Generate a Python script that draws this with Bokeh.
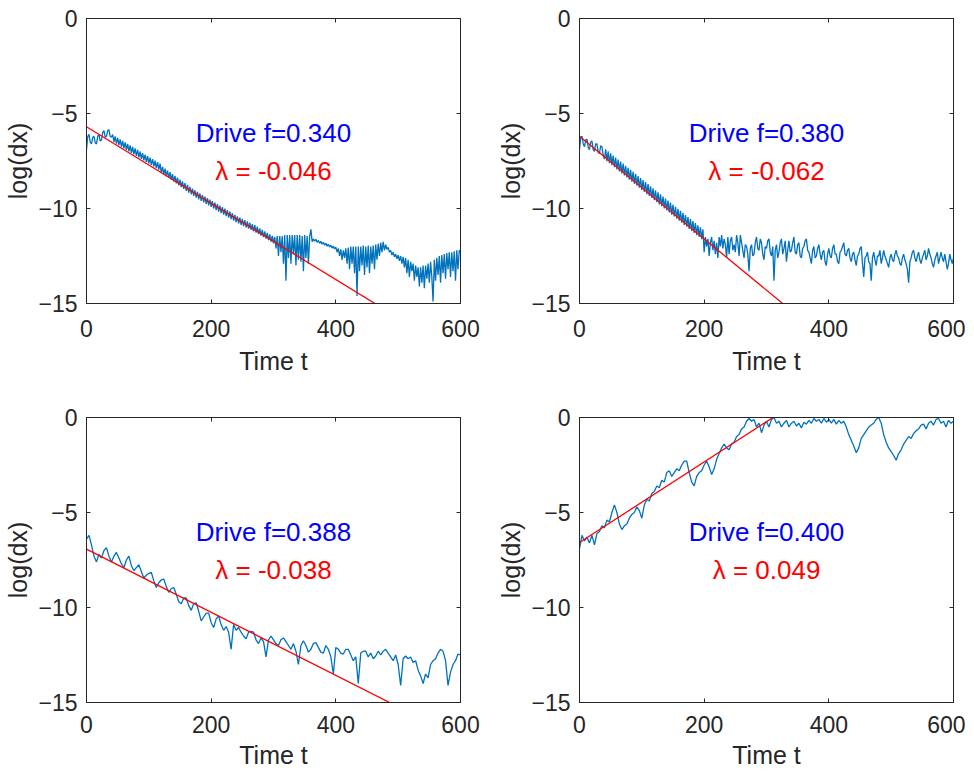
import numpy as np
from bokeh.plotting import figure
from bokeh.layouts import column, row
from bokeh.models import Range1d, FixedTicker, LinearAxis
from bokeh.core.properties import value
from bokeh.embed import file_html
from bokeh.resources import INLINE

# ---------------- data ----------------
x_ticks = [0, 200, 400, 600]
y_ticks = [-15, -10, -5, 0]

drive_f = ["0.340", "0.380", "0.388", "0.400"]
lambdas = ["-0.046", "-0.062", "-0.038", "0.049"]
fit_intercept = [-5.7, -6.2, -6.93, -6.58]
fit_slope = [-0.0201, -0.027, -0.0166, 0.0212]
time_steps = [2, 2, 4, 4]  # sampling step of each read-off series (t from 0 to 600)

logdx_f0340 = [
    -6.9, -6.2, -6.1, -6.5, -6.6, -6.25, -6.2, -6.55, -6.6, -6.2,
    -6.1, -6.45, -6.4, -6.0, -5.9, -6.25, -6.2, -5.9, -5.85, -6.2,
    -6.25, -6.11, -6.50, -6.20, -6.59, -6.28, -6.67, -6.36, -6.75, -6.44,
    -6.83, -6.52, -6.91, -6.60, -6.99, -6.68, -7.07, -6.76, -7.15, -6.84,
    -7.23, -6.92, -7.31, -7.00, -7.39, -7.08, -7.47, -7.16, -7.55, -7.24,
    -7.63, -7.32, -7.71, -7.40, -7.79, -7.48, -7.87, -7.56, -7.95, -7.64,
    -8.11, -7.81, -8.20, -7.90, -8.30, -8.00, -8.39, -8.09, -8.49, -8.19,
    -8.58, -8.28, -8.68, -8.38, -8.78, -8.48, -8.88, -8.57, -8.97, -8.67,
    -9.07, -8.76, -9.16, -8.86, -9.25, -8.95, -9.34, -9.04, -9.43, -9.13,
    -9.52, -9.21, -9.60, -9.29, -9.68, -9.37, -9.76, -9.45, -9.84, -9.53,
    -9.92, -9.61, -10.00, -9.69, -10.08, -9.77, -10.16, -9.85, -10.24, -9.93,
    -10.32, -10.01, -10.40, -10.09, -10.48, -10.17, -10.56, -10.25, -10.64, -10.33,
    -10.72, -10.41, -10.79, -10.48, -10.86, -10.54, -10.93, -10.61, -11.00, -10.68,
    -11.06, -10.75, -11.13, -10.82, -11.20, -10.88, -11.27, -10.96, -11.35, -11.04,
    -11.43, -11.12, -11.51, -11.20, -11.59, -11.28, -11.67, -11.36, -11.75, -11.44,
    -11.83, -11.5, -12.1, -11.45, -12.5, -11.45, -12.3, -11.45, -12.9, -11.4,
    -13.8, -11.4, -12.6, -11.4, -12.9, -11.4, -12.4, -11.4, -13.0, -11.4,
    -12.7, -11.4, -12.8, -11.45, -13.3, -11.4, -12.6, -11.45, -12.9, -11.5,
    -11.1, -11.75, -11.6, -11.72, -11.62, -11.78, -11.68, -11.83, -11.73, -11.88,
    -11.78, -11.93, -11.83, -11.98, -11.88, -12.03, -11.93, -12.08, -11.98, -12.13,
    -12.03, -12.3, -12.1, -12.5, -12.15, -12.7, -12.2, -12.6, -12.1, -12.9,
    -12.05, -13.2, -12.0, -12.9, -12.0, -13.4, -12.0, -14.6, -12.0, -13.3,
    -12.0, -13.0, -11.95, -13.5, -12.0, -13.1, -11.95, -13.4, -12.0, -12.9,
    -11.95, -13.2, -11.9, -12.7, -11.85, -12.5, -11.8, -12.3, -11.75, -12.2,
    -11.9, -12.15, -12.05, -12.3, -12.2, -12.45, -12.3, -12.55, -12.4, -12.65,
    -12.45, -12.75, -12.5, -12.9, -12.55, -13.1, -12.6, -13.4, -12.7, -13.6,
    -12.8, -13.3, -12.9, -13.8, -13.0, -13.6, -13.1, -14.1, -13.1, -13.9,
    -13.0, -14.2, -13.0, -13.7, -12.9, -13.9, -12.8, -13.6, -14.9, -12.7,
    -13.8, -12.6, -13.5, -12.5, -13.9, -12.45, -13.4, -12.4, -13.7, -12.35,
    -13.2, -12.3, -13.6, -12.3, -13.3, -12.25, -13.8, -12.2, -13.2, -12.2,
    -12.3,
]

logdx_f0380 = [
    -6.9, -6.25, -6.2, -6.6, -6.75, -6.4, -6.35, -6.8, -6.9, -6.5,
    -6.45, -6.9, -7.0, -6.6, -6.6, -7.05, -7.1, -6.7, -6.75, -7.2,
    -7.40, -6.88, -7.51, -6.99, -7.62, -7.10, -7.72, -7.21, -7.83, -7.32,
    -7.94, -7.42, -8.05, -7.53, -8.16, -7.64, -8.26, -7.75, -8.37, -7.86,
    -8.48, -7.96, -8.59, -8.07, -8.70, -8.18, -8.80, -8.29, -8.91, -8.40,
    -9.02, -8.50, -9.13, -8.61, -9.24, -8.72, -9.34, -8.83, -9.45, -8.94,
    -9.56, -9.04, -9.67, -9.15, -9.78, -9.26, -9.88, -9.37, -9.99, -9.48,
    -10.10, -9.58, -10.21, -9.69, -10.32, -9.80, -10.42, -9.91, -10.53, -10.02,
    -10.64, -10.12, -10.75, -10.23, -10.86, -10.34, -10.96, -10.45, -11.07, -10.56,
    -11.18, -10.66, -11.29, -10.77, -11.40, -10.88, -11.50, -10.99, -11.61, -11.10,
    -12.3, -11.5, -12.0, -11.6, -12.5, -11.8, -11.5, -12.2, -11.7, -12.4,
    -11.8, -12.6, -11.5, -12.0, -11.4, -12.1, -11.6, -11.9, -12.6, -11.5,
    -12.4, -11.7, -11.5, -12.2, -11.9, -12.3, -11.4, -11.8, -12.5, -11.4,
    -11.8, -12.2, -12.6, -11.9, -12.0, -12.4, -13.3, -12.1, -11.9, -12.5,
    -12.4, -11.8, -11.5, -12.1, -12.2, -11.6, -11.8, -12.4, -12.7, -12.0,
    -12.1, -11.7, -11.6, -12.3, -12.5, -12.0, -13.8, -12.2, -11.9, -12.6,
    -12.3, -11.8, -11.6, -12.4, -12.1, -11.7, -12.8, -12.2, -11.7, -12.3,
    -12.2, -11.8, -11.5, -12.3, -12.4, -11.9, -11.8, -12.5, -12.6, -12.1,
    -12.0, -11.7, -11.6, -12.2, -12.3, -12.6, -12.9, -12.2, -12.0, -12.6,
    -12.5, -12.1, -11.9, -12.4, -12.7, -12.3, -12.2, -12.8, -13.0, -12.4,
    -12.1, -12.5, -12.6, -12.1, -11.9, -12.4, -12.4, -12.8, -12.9, -12.3,
    -12.2, -12.0, -11.8, -12.4, -12.5, -12.2, -12.1, -12.6, -12.8, -12.4,
    -12.3, -12.7, -13.0, -12.5, -12.4, -12.1, -12.0, -12.9, -13.6, -12.6,
    -12.5, -12.3, -12.8, -12.9, -13.8, -12.6, -12.3, -12.7, -13.0, -12.5,
    -12.5, -12.2, -12.9, -12.6, -12.2, -12.5, -12.7, -12.9, -13.1, -12.6,
    -12.4, -12.7, -12.8, -12.4, -12.2, -12.5, -12.6, -12.9, -13.0, -12.6,
    -12.4, -12.7, -12.9, -13.2, -13.9, -12.8, -12.6, -12.3, -12.2, -12.6,
    -12.8, -12.5, -12.3, -12.7, -12.9, -12.6, -12.4, -12.2, -12.7, -12.5,
    -12.1, -12.4, -12.6, -12.9, -13.1, -12.7, -12.5, -12.3, -12.9, -12.6,
    -12.3, -12.6, -12.8, -12.4, -12.8, -13.2, -12.9, -12.4, -12.7, -12.9,
    -12.6,
]

logdx_f0388 = [
    -6.4, -6.2, -6.7, -7.3, -7.6, -7.2, -7.4, -7.0, -6.85, -7.3,
    -7.6, -7.3, -7.1, -7.4, -7.7, -7.9, -7.5, -7.3, -7.8, -8.05,
    -7.9, -7.75, -8.1, -8.45, -8.3, -8.2, -8.15, -8.6, -8.95, -8.7,
    -8.55, -8.5, -8.9, -9.2, -9.0, -8.95, -9.3, -9.7, -9.8, -9.5,
    -9.5, -9.9, -10.15, -9.8, -9.75, -10.2, -10.7, -10.5, -10.3, -10.3,
    -10.8, -11.05, -10.6, -10.45, -10.9, -11.2, -11.0, -11.3, -12.2, -10.9,
    -11.2, -11.05, -11.3, -11.5, -11.65, -11.3, -11.25, -11.3, -11.7, -11.9,
    -11.6, -11.8, -12.6, -11.7, -11.5, -11.7, -11.9, -12.0, -11.7, -11.6,
    -11.8, -12.0, -12.2, -11.9, -12.3, -13.0, -12.0, -11.75, -12.0, -12.35,
    -12.2, -11.9, -11.85, -12.1, -12.35, -12.4, -12.0, -12.2, -12.6, -13.5,
    -12.1, -12.2, -12.4, -12.45, -12.2, -12.2, -12.5, -12.8, -12.6, -14.0,
    -12.4, -12.3, -12.3, -12.6, -12.4, -12.7, -12.55, -12.3, -12.5, -12.3,
    -12.2, -12.4, -12.6, -12.8, -12.5, -13.0, -14.1, -12.7, -12.55, -12.7,
    -12.6, -12.9, -12.8, -13.3, -13.6, -14.0, -13.5, -13.7, -13.0, -12.8,
    -12.7, -12.4, -12.2, -12.3, -12.8, -14.1, -13.4, -13.0, -12.8, -12.45,
    -12.5,
]

logdx_f0400 = [
    -6.9, -6.2, -6.5, -6.3, -6.6, -6.2, -6.7, -6.1, -6.0, -5.7,
    -5.8, -5.4, -5.5, -5.0, -4.6, -5.0, -5.6, -5.9, -5.7, -5.6,
    -5.3, -5.1, -5.0, -4.7, -4.9, -5.3, -4.6, -4.3, -4.4, -4.0,
    -3.9, -3.6, -3.7, -3.3, -3.4, -2.9, -2.8, -3.1, -2.9, -2.7,
    -2.8, -2.5, -2.3, -2.3, -2.9, -3.4, -3.6, -3.1, -2.9, -2.8,
    -2.5, -2.3, -2.6, -3.0, -2.7, -2.2, -1.9, -1.6, -1.4, -1.6,
    -1.7, -1.4, -1.3, -1.0, -0.9, -0.6, -0.5, -0.2, -0.05, -0.2,
    -0.1, -0.5, -0.3, -0.8, -0.4, -0.2, -0.5, -0.1, 0.0, -0.3,
    -0.2, -0.5, -0.3, -0.15, -0.5, -0.3, -0.2, -0.45, -0.3, -0.55,
    -0.25, -0.35, -0.15, -0.3, -0.05, -0.2, -0.1, -0.3, -0.05, -0.25,
    -0.1, -0.3, -0.1, -0.35, -0.15, -0.3, -0.2, -0.5, -0.9, -1.2,
    -1.5, -1.85, -1.6, -1.1, -0.9, -0.7, -0.5, -0.4, -0.3, -0.1,
    0.0, -0.3, -0.9, -1.3, -1.6, -1.8, -2.0, -2.25, -1.9, -1.7,
    -1.4, -1.2, -1.0, -1.1, -0.85, -0.7, -0.6, -0.4, -0.35, -0.6,
    -0.3, -0.2, -0.4, -0.1, -0.05, -0.3, -0.2, -0.5, -0.15, -0.3,
    -0.2,
]

series = [logdx_f0340, logdx_f0380, logdx_f0388, logdx_f0400]

# ---------------- styling ----------------
AX = "#262626"
BLUE_LINE = "#0072BD"
FONT = "Liberation Sans"
TICK_FS = "23px"
LABEL_FS = "25px"
NOTE_FS = "26px"
FW, FH = 374, 285

# borders: (left, right, top, bottom)
borders = [
    (86, 30, 18, 87),
    (89, 12, 18, 87),
    (86, 30, 27, 70),
    (89, 12, 27, 70),
]
# x-axis (tick label standoff, axis label standoff) per panel
x_standoffs = [(16, 7), (16, 7), (13, 5), (13, 5)]


def make_panel(k):
    bl, br, bt, bb = borders[k]
    p = figure(width=bl + FW + br, height=bt + FH + bb,
               min_border_left=bl, min_border_right=br,
               min_border_top=bt, min_border_bottom=bb,
               x_range=Range1d(0, 600), y_range=Range1d(-15, 0),
               output_backend="svg", toolbar_location=None,
               background_fill_color="white", border_fill_color="white")
    p.outline_line_color = AX
    p.outline_line_width = 1
    p.grid.visible = False

    xa = p.below[0]
    ya = p.left[0]
    xa.ticker = FixedTicker(ticks=x_ticks)
    ya.ticker = FixedTicker(ticks=y_ticks)
    xa.axis_label = "Time t"
    ya.axis_label = "log(dx)"
    for ax in (xa, ya):
        ax.axis_line_color = AX
        ax.major_tick_line_color = AX
        ax.major_tick_in = 4
        ax.major_tick_out = 0
        ax.minor_tick_in = 0
        ax.minor_tick_out = 0
        ax.major_label_text_font = FONT
        ax.major_label_text_font_size = TICK_FS
        ax.major_label_text_color = AX
        ax.axis_label_text_font = FONT
        ax.axis_label_text_font_size = LABEL_FS
        ax.axis_label_text_font_style = "normal"
        ax.axis_label_text_color = AX
    xa.major_label_standoff, xa.axis_label_standoff = x_standoffs[k]
    ya.major_label_standoff = 9
    ya.axis_label_standoff = 3

    for loc, ticks in (("above", x_ticks), ("right", y_ticks)):
        ax = LinearAxis(ticker=FixedTicker(ticks=ticks),
                        major_label_text_font_size="0px",
                        major_label_text_alpha=0,
                        major_label_standoff=0,
                        major_tick_in=4, major_tick_out=0,
                        minor_tick_in=0, minor_tick_out=0,
                        axis_line_color=AX, major_tick_line_color=AX)
        p.add_layout(ax, loc)

    vals = np.array(series[k], dtype=float)
    t = time_steps[k] * np.arange(len(vals))
    p.line(t, vals, line_color=BLUE_LINE, line_width=1.3)

    tt = np.array([0.0, 600.0])
    p.line(tt, fit_intercept[k] + fit_slope[k] * tt, line_color="red", line_width=1.3)

    p.text(x=[300], y=[-6.0], text=["Drive f=" + drive_f[k]],
           text_color="#0000FF", text_font=value(FONT), text_font_size=NOTE_FS,
           text_align="center", text_baseline="alphabetic")
    p.text(x=[300], y=[-8.0], text=["\u03bb = " + lambdas[k]],
           text_color="#FF0000", text_font=value(FONT), text_font_size=NOTE_FS,
           text_align="center", text_baseline="alphabetic")
    return p


panels = [make_panel(k) for k in range(4)]
layout = column(row(panels[0], panels[1]), row(panels[2], panels[3]))

open("out.html", "w").write(file_html(layout, INLINE))
